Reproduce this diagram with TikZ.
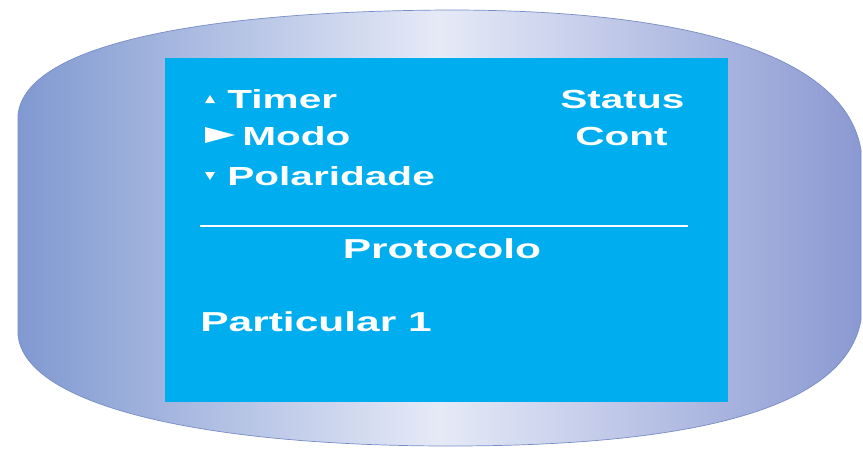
\documentclass[tikz,border=0pt]{standalone}
\usepackage{fontspec}
\setmainfont{Liberation Sans}
\newfontfamily\lcdfont[FakeStretch=1.55]{Liberation Sans}
\definecolor{housingL}{RGB}{128,153,209}
\definecolor{housingM}{RGB}{230,234,247}
\definecolor{housingR}{RGB}{138,153,210}
\definecolor{housingEdge}{RGB}{120,140,200}
\definecolor{lcdBlue}{RGB}{0,174,239}

\tikzset{
  lcdtext/.style={text=white, font=\lcdfont\bfseries\fontsize{14.9}{17}\selectfont, inner sep=0pt, anchor=base west},
  lcdbig/.style={lcdtext, font=\lcdfont\bfseries\fontsize{15.6}{18}\selectfont},
  arrowmark/.style={fill=white, draw=none},
}

\begin{document}
\begin{tikzpicture}[x=0.02cm,y=-0.02cm]
\useasboundingbox (0,0) rectangle (863,450);
% housing
\path[left color=housingL, right color=housingR, middle color=housingM, draw=housingEdge, line width=0.4pt]
  (18,335) -- (18,115) .. controls (25,45) and (200,11) .. (450,10)
  .. controls (690,10) and (845,55) .. (861,150) -- (861,320)
  .. controls (845,410) and (690,446) .. (450,446)
  .. controls (200,446) and (25,405) .. (18,335) -- cycle;
% display
\node[fill=lcdBlue, minimum width=563*0.02cm, minimum height=344*0.02cm, inner sep=0pt, anchor=north west] (lcd) at (165,58) {};

\node[lcdtext] (timer) at (227,108) {Timer};
\node[lcdtext] (modo) at (242,145) {Modo};
\node[lcdtext] (polaridade) at (227,185) {Polaridade};
\node[lcdtext] (status) at (560,108) {Status};
\node[lcdtext] (cont) at (575,145) {Cont};
\node[lcdbig, anchor=base] (protocolo) at (442,258) {Protocolo};
\node[lcdbig] (particular) at (200,331) {Particular 1};

% cursor marks
\path[arrowmark] (205,103) -- (215,103) -- (210,95) -- cycle;
\path[arrowmark] (205,127) -- (235,135) -- (205,143) -- cycle;
\path[arrowmark] (205,172) -- (215,172) -- (210,180) -- cycle;

% separator
\coordinate (sepL) at (200,226);
\coordinate (sepR) at (688,226);
\draw[white, line width=1.1pt] (sepL) -- (sepR);
\end{tikzpicture}
\end{document}
